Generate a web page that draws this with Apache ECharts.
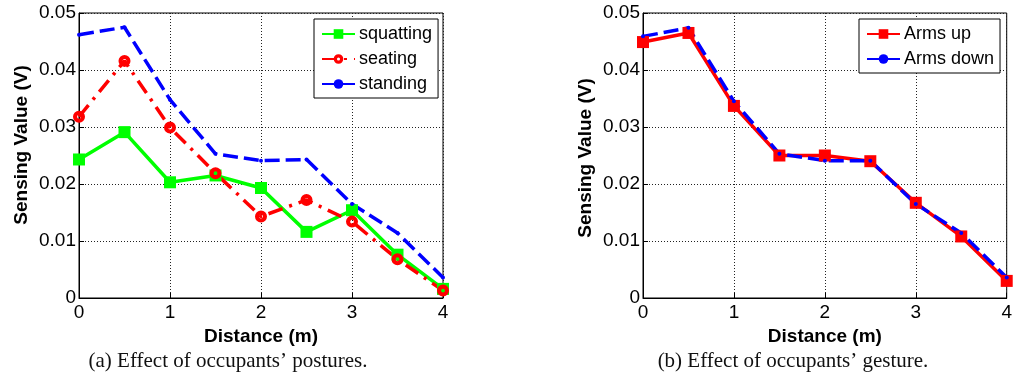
<!DOCTYPE html>
<html>
<head>
<meta charset="utf-8">
<script src="https://cdn.jsdelivr.net/npm/echarts@6/dist/echarts.min.js"></script>
<style>
  html, body { margin: 0; padding: 0; background: #fff; }
  #chart { width: 1015px; height: 385px; }
</style>
</head>
<body>
<div id="chart"></div>
<script>
// Distances from the sensor (m)
const distance = [0, 0.5, 1, 1.5, 2, 2.5, 3, 3.5, 4];

// (a) occupant postures — sensing value (V)
const squatting = [0.0243, 0.0291, 0.0203, 0.0215, 0.0193, 0.0116, 0.0154, 0.0076, 0.0016];
const seating   = [0.0318, 0.0416, 0.0299, 0.0219, 0.0143, 0.0172, 0.0134, 0.0068, 0.0013];
const standing  = [0.0462, 0.0475, 0.0348, 0.0253, 0.0241, 0.0243, 0.0165, 0.0114, 0.0036];

// (b) occupant gestures — sensing value (V)
const armsUp   = [0.0449, 0.0465, 0.0337, 0.0250, 0.0250, 0.0240, 0.0167, 0.0108, 0.0030];
const armsDown = [0.0459, 0.0474, 0.0345, 0.0253, 0.0241, 0.0241, 0.0165, 0.0114, 0.0036];

const captions = ['(a) Effect of occupants\u2019 postures.', '(b) Effect of occupants\u2019 gesture.'];
const xTitle = 'Distance (m)';
const yTitle = 'Sensing Value (V)';

const SANS = '"Liberation Sans", Arial, sans-serif';
const SERIF = '"Liberation Serif", "Times New Roman", serif';
const LW = 3.5;

// thick ring marker: outer disc with a small hole punched out (opposite winding)
const RING = 'path://M0,-5A5,5 0 1,1 0,5A5,5 0 1,1 0,-5Z M0,-1.6A1.6,1.6 0 1,0 0,1.6A1.6,1.6 0 1,0 0,-1.6Z';

const pairs = ys => distance.map((d, i) => [d, ys[i]]);

function xAxisFor(gridIndex) {
  return {
    gridIndex, type: 'value', min: 0, max: 4, interval: 1,
    name: xTitle, nameLocation: 'middle', nameGap: 29, nameMoveOverlap: false,
    nameTextStyle: { fontFamily: SANS, fontSize: 19, fontWeight: 'bold', color: '#000' },
    axisLine: { show: true, onZero: false, lineStyle: { color: '#000', width: 1 } },
    axisTick: { show: true, inside: true, length: 5, lineStyle: { color: '#000' } },
    axisLabel: { fontFamily: SANS, fontSize: 19, color: '#000', margin: 5 },
    splitLine: { show: true, lineStyle: { color: '#222', width: 1, type: [1, 2] } }
  };
}

function yAxisFor(gridIndex, shift) {
  return {
    gridIndex, type: 'value', min: 0, max: 0.05, interval: 0.01,
    name: yTitle, nameLocation: 'middle', nameGap: 48, nameMoveOverlap: false,
    nameTextStyle: {
      fontFamily: SANS, fontSize: 19, fontWeight: 'bold', color: '#000',
      padding: shift >= 0 ? [0, 0, 0, shift * 2] : [0, -shift * 2, 0, 0]
    },
    axisLine: { show: true, lineStyle: { color: '#000', width: 1 } },
    axisTick: { show: true, inside: true, length: 5, lineStyle: { color: '#000' } },
    axisLabel: {
      fontFamily: SANS, fontSize: 19, color: '#000', margin: 3,
      formatter: v => (v === 0 ? '0' : v.toFixed(2))
    },
    splitLine: { show: true, lineStyle: { color: '#222', width: 1, type: [1, 2] } }
  };
}

function legendFor(left, names) {
  return {
    data: names, orient: 'vertical', left, top: 19,
    backgroundColor: '#fff', borderColor: '#000', borderWidth: 1, borderRadius: 0,
    padding: [6, 6, 5, 7], itemGap: 7, itemWidth: 33, itemHeight: 12,
    textStyle: { fontFamily: SANS, fontSize: 18, color: '#000', padding: [0, 0, 0, -1] },
    selectedMode: false
  };
}

const chart = echarts.init(document.getElementById('chart'), null, { renderer: 'canvas' });

chart.setOption({
  animation: false,
  backgroundColor: '#fff',
  grid: [
    { left: 79, top: 13, width: 364, height: 285, show: true, borderColor: '#000', borderWidth: 1, backgroundColor: '#fff' },
    { left: 643, top: 13, width: 364, height: 285, show: true, borderColor: '#000', borderWidth: 1, backgroundColor: '#fff' }
  ],
  xAxis: [xAxisFor(0), xAxisFor(1)],
  yAxis: [yAxisFor(0, 10.5), yAxisFor(1, -2.5)],
  legend: [
    legendFor(314, ['squatting', 'seating', 'standing']),
    legendFor(859, ['Arms up', 'Arms down'])
  ],
  series: [
    {
      name: 'squatting', type: 'line', xAxisIndex: 0, yAxisIndex: 0,
      data: pairs(squatting), color: '#00ff00',
      lineStyle: { width: LW, type: 'solid', color: '#00ff00' },
      symbol: 'rect', symbolSize: 12, itemStyle: { color: '#00ff00' }
    },
    {
      name: 'seating', type: 'line', xAxisIndex: 0, yAxisIndex: 0,
      data: pairs(seating), color: '#ff0000',
      lineStyle: { width: LW, type: [15, 7, 3, 7], color: '#ff0000' },
      symbol: RING, symbolSize: 12, symbolKeepAspect: true,
      itemStyle: { color: '#ff0000' }
    },
    {
      name: 'standing', type: 'line', xAxisIndex: 0, yAxisIndex: 0,
      data: pairs(standing), color: '#0000ff',
      lineStyle: { width: LW, type: [15, 6], color: '#0000ff' },
      symbol: 'circle', symbolSize: 4, itemStyle: { color: '#0000ff' }
    },
    {
      name: 'Arms up', type: 'line', xAxisIndex: 1, yAxisIndex: 1,
      data: pairs(armsUp), color: '#ff0000',
      lineStyle: { width: LW, type: 'solid', color: '#ff0000' },
      symbol: 'rect', symbolSize: 12, itemStyle: { color: '#ff0000' }
    },
    {
      name: 'Arms down', type: 'line', xAxisIndex: 1, yAxisIndex: 1,
      data: pairs(armsDown), color: '#0000ff',
      lineStyle: { width: LW, type: [15, 6], color: '#0000ff' },
      symbol: 'circle', symbolSize: 4, itemStyle: { color: '#0000ff' }
    }
  ],
  graphic: [
    {
      type: 'text', x: 228, y: 361,
      style: { text: captions[0], font: '21px ' + SERIF, fill: '#111', align: 'center', verticalAlign: 'middle' }
    },
    {
      type: 'text', x: 793, y: 361,
      style: { text: captions[1], font: '21px ' + SERIF, fill: '#111', align: 'center', verticalAlign: 'middle' }
    }
  ]
});
</script>
</body>
</html>
